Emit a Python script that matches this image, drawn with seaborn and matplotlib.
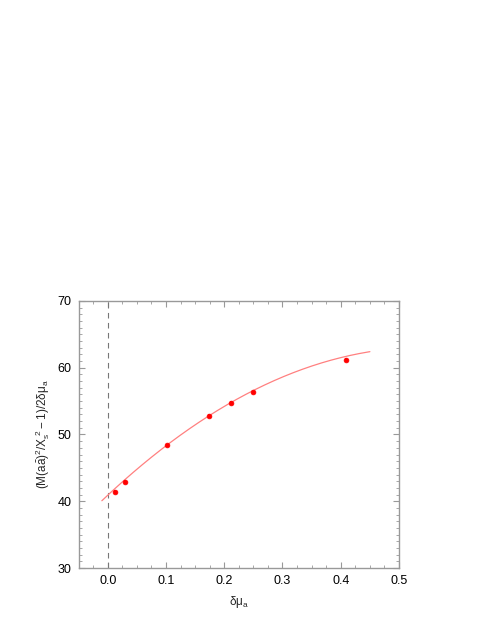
import numpy as np
import pandas as pd
import matplotlib
matplotlib.use('Agg')
import matplotlib.pyplot as plt
import seaborn as sns
from matplotlib.ticker import MultipleLocator

# Datos
dmu = [0.012, 0.030, 0.101, 0.174, 0.212, 0.250, 0.409]
ratio = [41.4, 42.9, 48.4, 52.8, 54.7, 56.3, 61.2]
ratio_err = [0.35, 0.3, 0.25, 0.25, 0.25, 0.25, 0.3]

# Ajuste cuadratico (coeficientes)
fit_coef = [-74.9, 81.5, 40.9]
fit_range = [-0.01, 0.45]

sns.set_theme(style='ticks')
plt.rcParams['font.family'] = ['Liberation Sans', 'DejaVu Sans']
plt.rcParams['mathtext.fontset'] = 'custom'
plt.rcParams['mathtext.rm'] = 'Liberation Sans'
plt.rcParams['mathtext.it'] = 'Liberation Sans'
plt.rcParams['mathtext.bf'] = 'Liberation Sans:bold'

df = pd.DataFrame({'dmu': dmu, 'ratio': ratio, 'err': ratio_err})
xf = np.linspace(fit_range[0], fit_range[1], 200)
fit = pd.DataFrame({'x': xf, 'y': np.polyval(fit_coef, xf)})

fig = plt.figure(figsize=(4.91, 6.35), dpi=100)
ax = fig.add_axes([0.160, 0.1055, 0.6527, 0.4205])

ax.axvline(0.0, color='#777777', lw=0.8, ls=(0, (5, 4)))
sns.lineplot(data=fit, x='x', y='y', ax=ax, color='#ff8080', lw=0.9)
ax.errorbar(df['dmu'], df['ratio'], yerr=df['err'], fmt='none', ecolor='red', elinewidth=1.2)
sns.scatterplot(data=df, x='dmu', y='ratio', ax=ax, color='red', s=12, edgecolor='red', linewidth=0.5, zorder=5)

ax.set_xlim(-0.05, 0.5)
ax.set_ylim(30, 70)
ax.xaxis.set_major_locator(MultipleLocator(0.1))
ax.xaxis.set_minor_locator(MultipleLocator(0.025))
ax.yaxis.set_major_locator(MultipleLocator(10))
ax.yaxis.set_minor_locator(MultipleLocator(1))
ax.set_xticks([0.0, 0.1, 0.2, 0.3, 0.4, 0.5])
ax.set_xticklabels(['0.0', '0.1', '0.2', '0.3', '0.4', '0.5'])

for s in ax.spines.values():
    s.set_color('#999999')
    s.set_linewidth(1.0)
ax.tick_params(which='both', direction='in', top=True, right=True, colors='#999999', labelcolor='black', labelsize=9)
ax.tick_params(which='major', length=4, width=0.8, pad=5)
ax.tick_params(which='minor', length=2, width=0.6)

ax.set_xlabel(r'$\delta\mu_a$', fontsize=8.5, labelpad=5)
ax.set_ylabel(r'$(M(a\bar{a})^2/X_s^{\ 2}-1)/2\delta\mu_a$', fontsize=8.5, labelpad=4)

fig.savefig('out.png', dpi=100)
